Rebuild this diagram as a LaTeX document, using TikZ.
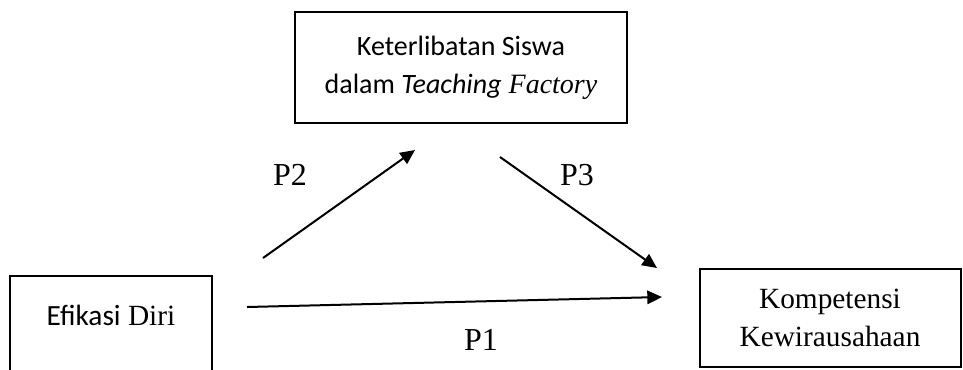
\documentclass[tikz,border=0pt]{standalone}
\usepackage{fontspec}
\setmainfont{Liberation Serif}
\newfontfamily\calibri{Carlito}
\usetikzlibrary{arrows.meta}

\begin{document}
\begin{tikzpicture}[x=0.75pt, y=-0.75pt, >={Triangle[length=11pt,width=10pt]},
  box/.style={draw, line width=1.5pt, inner sep=0pt, align=center,
    font=\fontsize{22}{28.5}\selectfont},
  path/.style={->, line width=1.5pt},
  lbl/.style={font=\fontsize{24}{28.5}\selectfont}]
  \useasboundingbox (0,0) rectangle (963,369);
  \clip (0,0) rectangle (963,369);
  % boxes
  \node[box, minimum width=249pt, minimum height=83.25pt, font=\fontsize{21}{28.5}\selectfont] (tefa) at (461,67.5)
    {{\calibri Keterlibatan Siswa}\\{\calibri dalam \itshape Teaching} \textit{Factory}};
  \node[box, minimum width=151.5pt, text height=36.75pt, text depth=45pt, anchor=base] (efikasi) at (111,325)
    {{\calibri Efikasi} Diri};
  \node[box, minimum width=195.75pt, minimum height=73.5pt] (kompetensi) at (830,318)
    {Kompetensi\\Kewirausahaan};
  % arrow ends
  \coordinate (p2a) at (263,258); \coordinate (p2b) at (415,150);
  \coordinate (p3a) at (500,157); \coordinate (p3b) at (657,268);
  \coordinate (p1a) at (247,307); \coordinate (p1b) at (662,297);
  \draw[path] (p2a) -- (p2b);
  \draw[path] (p3a) -- (p3b);
  \draw[path] (p1a) -- (p1b);
  % labels
  \node[lbl] (lp2) at (290,175) {P2};
  \node[lbl] (lp3) at (577,175) {P3};
  \node[lbl] (lp1) at (481,340) {P1};
\end{tikzpicture}
\end{document}
